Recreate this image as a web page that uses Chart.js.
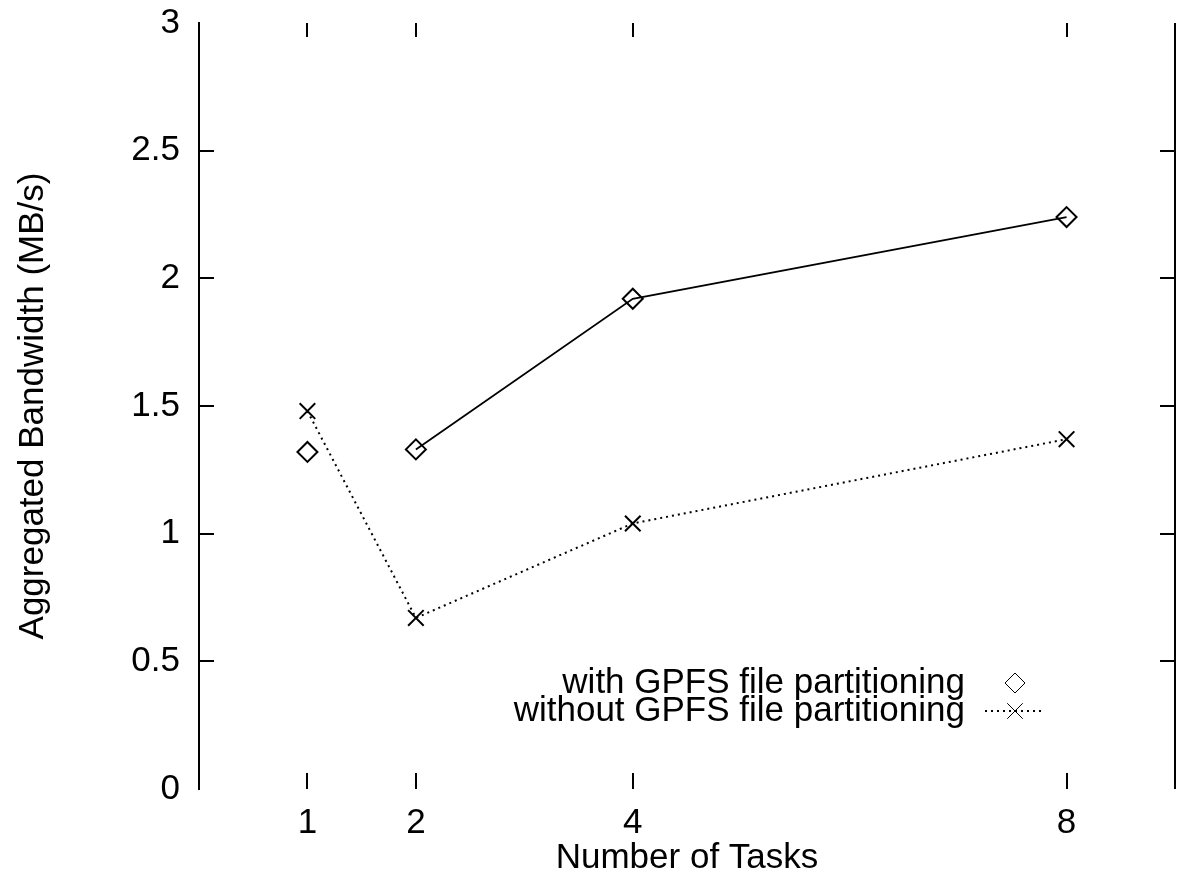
<!DOCTYPE html>
<html>
<head>
<meta charset="utf-8">
<title>Aggregated Bandwidth vs Number of Tasks</title>
<script src="https://cdn.jsdelivr.net/npm/chart.js@4.4.1/dist/chart.umd.min.js"></script>
<style>
  html, body { margin: 0; padding: 0; background: #fff; }
  canvas { display: block; }
</style>
</head>
<body>
<canvas id="chart" width="1180" height="879"></canvas>
<script>
// Measured aggregated bandwidth (MB/s) per number of tasks
const tasks = [1, 2, 4, 8];
const withPartitioning = [1.32, 1.33, 1.92, 2.24];
const withoutPartitioning = [1.48, 0.67, 1.04, 1.37];

const xTickLabels = ['1', '2', '4', '8'];
const yTickValues = [0, 0.5, 1, 1.5, 2, 2.5, 3];
const yTickLabels = ['0', '0.5', '1', '1.5', '2', '2.5', '3'];

const seriesLabels = ['with GPFS file partitioning', 'without GPFS file partitioning'];
const xTitle = 'Number of Tasks';
const yTitle = 'Aggregated Bandwidth (MB/s)';

const FONT = { family: '"Liberation Sans", Arial, Helvetica, sans-serif', size: 35 };

const toPoints = (xs, ys) => xs.map((x, i) => ({ x, y: ys[i] }));

// Right-hand frame line plus inward tick marks on all four sides (gnuplot style)
const frameTicks = {
  id: 'frameTicks',
  afterDatasetsDraw(chart) {
    const { ctx, chartArea: a, scales: { x, y } } = chart;
    ctx.save();
    ctx.strokeStyle = '#000';
    ctx.lineWidth = 2;
    ctx.beginPath();
    ctx.moveTo(a.right, a.top); ctx.lineTo(a.right, a.bottom);
    x.ticks.forEach(t => {
      const px = Math.round(x.getPixelForValue(t.value));
      ctx.moveTo(px, a.top); ctx.lineTo(px, a.top + 14);
      ctx.moveTo(px, a.bottom); ctx.lineTo(px, a.bottom - 16);
    });
    y.ticks.forEach(t => {
      if (t.value <= y.min || t.value >= y.max) return;
      const py = Math.round(y.getPixelForValue(t.value));
      ctx.moveTo(a.left, py); ctx.lineTo(a.left + 15, py);
      ctx.moveTo(a.right, py); ctx.lineTo(a.right - 15, py);
    });
    ctx.stroke();
    ctx.restore();
  }
};

// Key in the lower right: text right-aligned, followed by the symbol sample
const keyBox = {
  id: 'keyBox',
  afterDraw(chart) {
    const { ctx, chartArea: a } = chart;
    const textRight = a.right - 210;
    const symX = a.right - 160;
    const rows = [
      { ds: chart.data.datasets[0], y: a.bottom - 106 },
      { ds: chart.data.datasets[2], y: a.bottom - 78 }
    ];
    ctx.save();
    ctx.font = `${FONT.size}px ${FONT.family}`;
    ctx.textAlign = 'right';
    ctx.textBaseline = 'middle';
    rows.forEach(r => {
      ctx.fillStyle = '#000';
      ctx.fillText(r.ds.label, textRight, r.y);
      if (r.ds.showLine) {
        ctx.save();
        ctx.strokeStyle = r.ds.borderColor;
        ctx.lineWidth = r.ds.borderWidth;
        ctx.setLineDash(r.ds.borderDash || []);
        ctx.beginPath();
        ctx.moveTo(symX - 30, r.y);
        ctx.lineTo(symX + 30, r.y);
        ctx.stroke();
        ctx.restore();
      }
      ctx.strokeStyle = r.ds.borderColor;
      ctx.fillStyle = 'rgba(0,0,0,0)';
      Chart.helpers.drawPoint(ctx, {
        pointStyle: r.ds.pointStyle,
        radius: r.ds.pointRadius,
        borderWidth: r.ds.pointBorderWidth,
        rotation: 0
      }, symX, r.y);
    });
    ctx.restore();
  }
};

new Chart(document.getElementById('chart'), {
  type: 'scatter',
  data: {
    datasets: [
      {
        label: seriesLabels[0],
        data: toPoints(tasks, withPartitioning),
        showLine: false,
        pointStyle: 'rectRot',
        pointRadius: 10,
        pointBorderWidth: 2,
        borderColor: '#000',
        backgroundColor: 'rgba(0,0,0,0)'
      },
      {
        label: '',
        data: toPoints(tasks.slice(1), withPartitioning.slice(1)),
        showLine: true,
        pointRadius: 0,
        borderWidth: 1.8,
        borderColor: '#000',
        backgroundColor: 'rgba(0,0,0,0)'
      },
      {
        label: seriesLabels[1],
        data: toPoints(tasks, withoutPartitioning),
        showLine: true,
        borderDash: [2, 4],
        borderWidth: 2,
        borderColor: '#000',
        pointStyle: 'crossRot',
        pointRadius: 11,
        pointBorderWidth: 2,
        backgroundColor: 'rgba(0,0,0,0)'
      }
    ]
  },
  options: {
    responsive: false,
    animation: false,
    devicePixelRatio: 1,
    layout: { autoPadding: false, padding: { left: 0, right: 5, top: 23, bottom: 0 } },
    plugins: { legend: { display: false }, tooltip: { enabled: false } },
    scales: {
      x: {
        type: 'linear',
        min: 0,
        max: 9,
        afterBuildTicks: s => { s.ticks = tasks.map(v => ({ value: v })); },
        afterFit: s => { s.height = 90; s.paddingLeft = 0; s.paddingRight = 0; },
        ticks: {
          callback: (v, i) => xTickLabels[i],
          font: FONT,
          color: '#000',
          padding: 13,
          maxRotation: 0
        },
        grid: { display: false, drawTicks: false },
        border: { display: false },
        title: { display: true, text: xTitle, font: FONT, color: '#000', padding: { top: 0, bottom: 0 } }
      },
      y: {
        position: 'left',
        min: 0,
        max: 3,
        afterBuildTicks: s => { s.ticks = yTickValues.map(v => ({ value: v })); },
        afterFit: s => { s.width = 199; s.paddingTop = 0; s.paddingBottom = 0; },
        ticks: {
          callback: (v, i) => yTickLabels[i],
          font: FONT,
          color: '#000',
          padding: 19
        },
        grid: { display: false, drawTicks: false },
        border: { display: true, width: 2, color: '#000' },
        title: { display: true, text: yTitle, font: FONT, color: '#000', padding: { top: 12, bottom: 0 } }
      }
    }
  },
  plugins: [frameTicks, keyBox]
});
</script>
</body>
</html>
